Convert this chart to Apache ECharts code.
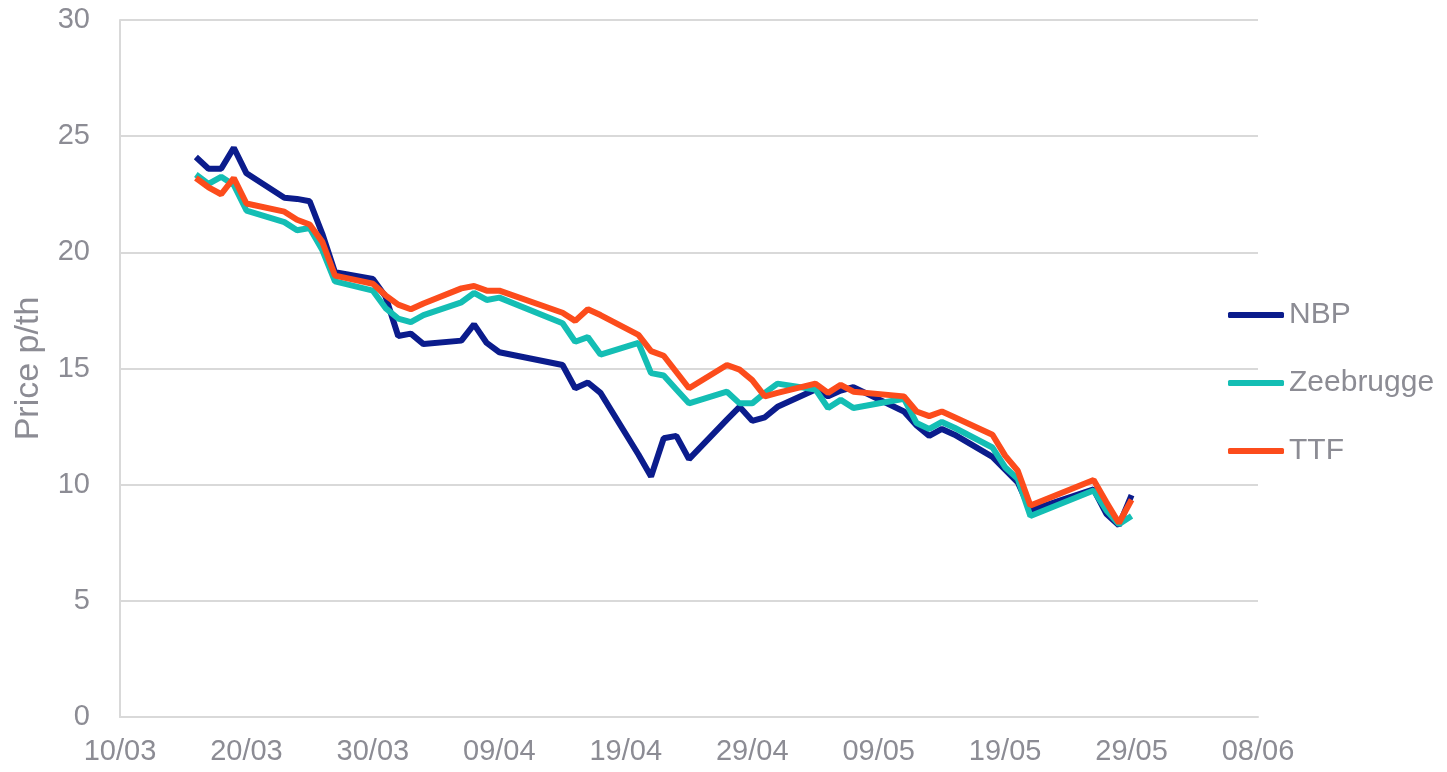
<!DOCTYPE html>
<html>
<head>
<meta charset="utf-8">
<script src="https://cdn.jsdelivr.net/npm/echarts@6/dist/echarts.min.js"></script>
<style>
  html, body { margin: 0; padding: 0; background: #fff; }
  #chart { width: 1447px; height: 772px; }
</style>
</head>
<body>
<div id="chart"></div>
<script>
// trading days shown (dd/mm, 2020)
var dates = [
  '16/03', '17/03', '18/03', '19/03', '20/03',
  '23/03', '24/03', '25/03', '26/03', '27/03',
  '30/03', '31/03', '01/04', '02/04', '03/04',
  '06/04', '07/04', '08/04', '09/04',
  '14/04', '15/04', '16/04', '17/04',
  '20/04', '21/04', '22/04', '23/04', '24/04',
  '27/04', '28/04', '29/04', '30/04', '01/05',
  '04/05', '05/05', '06/05', '07/05',
  '11/05', '12/05', '13/05', '14/05', '15/05',
  '18/05', '19/05', '20/05', '21/05',
  '26/05', '27/05', '28/05', '29/05'
];

var nbp = [
  24.1, 23.6, 23.6, 24.5, 23.4,
  22.35, 22.3, 22.2, 20.8, 19.15,
  18.85, 18.1, 16.4, 16.5, 16.05,
  16.2, 16.9, 16.1, 15.7,
  15.15, 14.15, 14.4, 13.95,
  11.3, 10.35, 12.0, 12.1, 11.1,
  12.8, 13.35, 12.75, 12.9, 13.35,
  14.1, 13.8, 14.05, 14.2,
  13.15, 12.55, 12.1, 12.4, 12.15,
  11.2, 10.65, 10.1, 8.9,
  9.8, 8.75, 8.25, 9.55
];

var zeebrugge = [
  23.35, 22.95, 23.25, 22.9, 21.8,
  21.3, 20.95, 21.05, 20.1, 18.75,
  18.35, 17.6, 17.15, 17.0, 17.3,
  17.85, 18.25, 17.95, 18.05,
  16.95, 16.15, 16.35, 15.6,
  16.1, 14.8, 14.7, 14.1, 13.5,
  14.0, 13.5, 13.5, 13.95, 14.35,
  14.1, 13.3, 13.65, 13.3,
  13.7, 12.65, 12.4, 12.7, 12.45,
  11.6, 10.75, 10.25, 8.65,
  9.75, 8.9, 8.3, 8.65
];

var ttf = [
  23.2, 22.8, 22.5, 23.2, 22.1,
  21.75, 21.4, 21.2, 20.45, 19.0,
  18.65, 18.15, 17.75, 17.55, 17.8,
  18.45, 18.55, 18.35, 18.35,
  17.4, 17.05, 17.55, 17.3,
  16.45, 15.75, 15.55, 14.85, 14.15,
  15.15, 14.95, 14.5, 13.8, 13.95,
  14.35, 13.95, 14.3, 14.0,
  13.8, 13.15, 12.95, 13.15, 12.9,
  12.15, 11.25, 10.6, 9.1,
  10.2, 9.25, 8.35, 9.35
];

var yTicks = { min: 0, max: 30, step: 5 };
var xDays = { min: 0, max: 90, step: 10 };   // days counted from 10/03/2020

var DAY = 86400000;
var base = Date.UTC(2020, 2, 10);

function dayOffset(s) {
  var p = s.split('/');
  return (Date.UTC(2020, +p[1] - 1, +p[0]) - base) / DAY;
}

function dayLabel(v) {
  var d = new Date(base + v * DAY);
  var dd = ('0' + d.getUTCDate()).slice(-2);
  var mm = ('0' + (d.getUTCMonth() + 1)).slice(-2);
  return dd + '/' + mm;
}

function pairs(values) {
  return dates.map(function (s, i) { return [dayOffset(s), values[i]]; });
}

var grey = '#8c8c94';
var gridGrey = '#d9d9d9';
var font = 'Liberation Sans, Arial, sans-serif';

var chart = echarts.init(document.getElementById('chart'));
chart.setOption({
  animation: false,
  backgroundColor: '#fff',
  textStyle: { fontFamily: font },
  grid: { left: 120, right: 189, top: 20, bottom: 55, outerBoundsMode: 'none' },
  legend: {
    orient: 'vertical',
    left: 1223,
    top: 293,
    icon: 'roundRect',
    itemWidth: 56,
    itemHeight: 6,
    itemGap: 34,
    textStyle: { color: grey, fontSize: 30, fontFamily: font, lineHeight: 34 },
    data: ['NBP', 'Zeebrugge', 'TTF']
  },
  xAxis: {
    type: 'value',
    min: xDays.min,
    max: xDays.max,
    interval: xDays.step,
    axisLine: { show: true, lineStyle: { color: gridGrey, width: 2 } },
    axisTick: { show: false },
    splitLine: { show: false },
    axisLabel: {
      color: grey, fontSize: 29, fontFamily: font, margin: 20,
      formatter: dayLabel
    }
  },
  yAxis: {
    type: 'value',
    min: yTicks.min,
    max: yTicks.max,
    interval: yTicks.step,
    name: 'Price p/th',
    nameLocation: 'middle',
    nameGap: 74,
    nameTextStyle: { color: grey, fontSize: 34, fontFamily: font },
    axisLine: { show: true, lineStyle: { color: gridGrey, width: 2 } },
    axisTick: { show: false },
    splitLine: { show: true, lineStyle: { color: gridGrey, width: 2 } },
    axisLabel: { color: grey, fontSize: 29, fontFamily: font, margin: 30 }
  },
  series: [
    {
      name: 'NBP', type: 'line', symbol: 'none',
      data: pairs(nbp),
      itemStyle: { color: '#0b1c8c' },
      lineStyle: { color: '#0b1c8c', width: 6 }
    },
    {
      name: 'Zeebrugge', type: 'line', symbol: 'none',
      data: pairs(zeebrugge),
      itemStyle: { color: '#14beb4' },
      lineStyle: { color: '#14beb4', width: 6 }
    },
    {
      name: 'TTF', type: 'line', symbol: 'none',
      data: pairs(ttf),
      itemStyle: { color: '#fc4c1c' },
      lineStyle: { color: '#fc4c1c', width: 6 }
    }
  ]
});
</script>
</body>
</html>
